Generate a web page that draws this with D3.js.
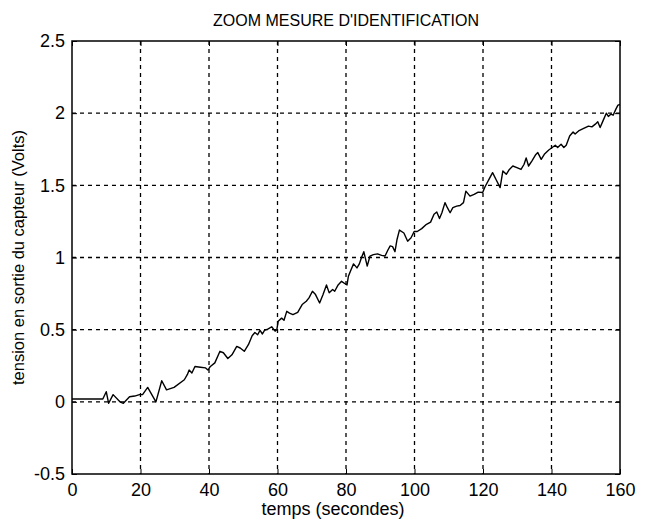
<!DOCTYPE html>
<html>
<head>
<meta charset="utf-8">
<script src="https://cdn.jsdelivr.net/npm/d3@7"></script>
<style>
  body { margin: 0; background: #fff; }
  svg { font-family: "Liberation Sans", Arial, sans-serif; }
</style>
</head>
<body>
<div id="chart"></div>
<script>
// mesure (temps en s, tension en V)
let temps = [0, 9, 10, 10.7, 12, 14, 15, 16.8, 18.3, 19.7, 20.6, 22.1, 24.5, 26.2, 27.6, 29.8,
  32.8, 33.7, 34.2, 35, 35.9, 37.5, 39, 39.7, 40.4, 41.7, 43.2, 44.2, 45.5, 46.7, 48.1, 49.1,
  50.3, 51.5, 52.6, 53.4, 54.2, 54.9, 55.6, 56.2, 57.3, 58.3, 59.3, 59.8, 60.2, 61.2, 61.9,
  62.7, 63.5, 64.5, 65.9, 67.2, 68.4, 69.2, 70.2, 71.1, 72.3, 73.3, 74.3, 75.1, 76.1, 76.7,
  77.7, 78.7, 79.6, 80.3, 80.7, 81.5, 82.2, 83.2, 83.9, 84.5, 85.2, 86.2, 87, 88, 89.2, 90.4,
  91.4, 92.2, 92.9, 93.6, 94.3, 94.9, 95.6, 96.9, 98, 99, 99.9, 100.8, 102.1, 103.5, 104.7,
  105.7, 106.5, 107.3, 108, 108.9, 109.6, 110.4, 111.2, 112.3, 113.3, 114.3, 115, 116.2,
  117.4, 118.6, 119.9, 120.6, 121.7, 122.8, 123.8, 125, 125.8, 126.8, 127.7, 128.7, 129.9,
  131.1, 132, 132.6, 133.3, 134.3, 135.3, 136, 137, 137.9, 139.2, 140.2, 141.1, 141.8, 142.8,
  143.6, 144.3, 145.3, 146.3, 146.9, 147.9, 149.4, 150.8, 151.8, 152.8, 153.5, 154.2, 155,
  156, 156.6, 157.3, 158, 158.8, 159.4, 160];
let tension = [0.02, 0.02, 0.07, -0.01, 0.05, 0.0, -0.01, 0.035, 0.04, 0.05, 0.05, 0.1, 0.0, 0.146, 0.083, 0.1,
  0.153, 0.19, 0.22, 0.2, 0.245, 0.24, 0.235, 0.22, 0.245, 0.27, 0.35, 0.34, 0.3, 0.326, 0.384, 0.373,
  0.35, 0.396, 0.458, 0.48, 0.465, 0.495, 0.47, 0.495, 0.505, 0.52, 0.49, 0.5, 0.558, 0.58, 0.565,
  0.627, 0.615, 0.604, 0.62, 0.674, 0.697, 0.72, 0.766, 0.743, 0.685, 0.743, 0.81, 0.755, 0.778, 0.766,
  0.81, 0.835, 0.82, 0.81, 0.87, 0.917, 0.956, 0.928, 0.956, 0.998, 1.04, 0.94, 1.01, 1.02, 1.025, 1.015,
  1.01, 1.05, 1.08, 1.075, 1.04, 1.125, 1.19, 1.17, 1.113, 1.137, 1.18, 1.18, 1.2, 1.23, 1.245,
  1.3, 1.315, 1.27, 1.31, 1.38, 1.345, 1.31, 1.345, 1.356, 1.36, 1.38, 1.46, 1.425,
  1.437, 1.453, 1.45, 1.49, 1.54, 1.588, 1.54, 1.484, 1.6, 1.576, 1.61, 1.634, 1.623,
  1.61, 1.646, 1.69, 1.634, 1.67, 1.71, 1.727, 1.68, 1.715, 1.745, 1.762, 1.778, 1.762, 1.785,
  1.762, 1.778, 1.842, 1.87, 1.855, 1.877, 1.894, 1.91, 1.905, 1.924, 1.94, 1.9, 1.945,
  2.0, 1.977, 1.993, 1.986, 2.028, 2.056, 2.06];

let xTicks = [0, 20, 40, 60, 80, 100, 120, 140, 160];
let yTicks = [-0.5, 0, 0.5, 1, 1.5, 2, 2.5];

let titre = "ZOOM MESURE D'IDENTIFICATION";
let xLabel = "temps (secondes)";
let yLabel = "tension en sortie du capteur (Volts)";

let W = 647, H = 521;
let margin = {left: 72, right: 27, top: 41, bottom: 47};
let w = W - margin.left - margin.right;
let h = H - margin.top - margin.bottom;

let svg = d3.select('#chart').append('svg')
    .attr('width', W).attr('height', H);

let g = svg.append('g')
    .attr('transform', `translate(${margin.left},${margin.top})`);

let x = d3.scaleLinear().domain([0, 160]).range([0, w]);
let y = d3.scaleLinear().domain([-0.5, 2.5]).range([h, 0]);

// grille pointillée
g.selectAll('.vgrid').data(xTicks.slice(1, -1)).enter().append('line')
    .attr('x1', d => x(d)).attr('x2', d => x(d))
    .attr('y1', 0).attr('y2', h)
    .attr('stroke', '#000').attr('stroke-width', 1.3)
    .attr('stroke-dasharray', '4,4');
g.selectAll('.hgrid').data(yTicks.slice(1, -1)).enter().append('line')
    .attr('x1', 0).attr('x2', w)
    .attr('y1', d => y(d)).attr('y2', d => y(d))
    .attr('stroke', '#000').attr('stroke-width', 1.3)
    .attr('stroke-dasharray', '4,4');

// axes (ticks vers l'intérieur, style matlab)
let styleAxis = sel => {
  sel.select('.domain').remove();
  sel.selectAll('text').attr('font-size', 18).attr('fill', '#000')
     .attr('font-family', '"Liberation Sans", Arial, sans-serif');
  sel.selectAll('line').attr('stroke', '#000');
};
g.append('g').attr('transform', `translate(0,${h})`)
    .call(d3.axisBottom(x).tickValues(xTicks).tickSizeInner(-5).tickPadding(9).tickFormat(d => String(d)))
    .call(styleAxis);
g.append('g')
    .call(d3.axisLeft(y).tickValues(yTicks).tickSizeInner(-5).tickPadding(7).tickFormat(d => String(d)))
    .call(styleAxis);
g.append('g')
    .call(d3.axisTop(x).tickValues(xTicks).tickSizeInner(-5).tickFormat(''))
    .call(styleAxis);
g.append('g').attr('transform', `translate(${w},0)`)
    .call(d3.axisRight(y).tickValues(yTicks).tickSizeInner(-5).tickFormat(''))
    .call(styleAxis);

g.append('rect')
    .attr('x', 0).attr('y', 0).attr('width', w).attr('height', h)
    .attr('fill', 'none').attr('stroke', '#000').attr('stroke-width', 1.5);

// courbe
let pts = temps.map((t, i) => [t, tension[i]]);
g.append('path')
    .datum(pts)
    .attr('fill', 'none')
    .attr('stroke', '#000')
    .attr('stroke-width', 1.4)
    .attr('stroke-linejoin', 'round')
    .attr('d', d3.line().x(d => x(d[0])).y(d => y(d[1])));

svg.append('text')
    .attr('x', margin.left + w / 2).attr('y', 26)
    .attr('text-anchor', 'middle').attr('font-size', 16)
    .text(titre);

svg.append('text')
    .attr('x', margin.left + w / 2 - 13).attr('y', 515)
    .attr('text-anchor', 'middle').attr('font-size', 18)
    .text(xLabel);

svg.append('text')
    .attr('transform', `translate(24,${margin.top + h / 2}) rotate(-90)`)
    .attr('text-anchor', 'middle').attr('font-size', 16.5)
    .text(yLabel);
</script>
</body>
</html>
